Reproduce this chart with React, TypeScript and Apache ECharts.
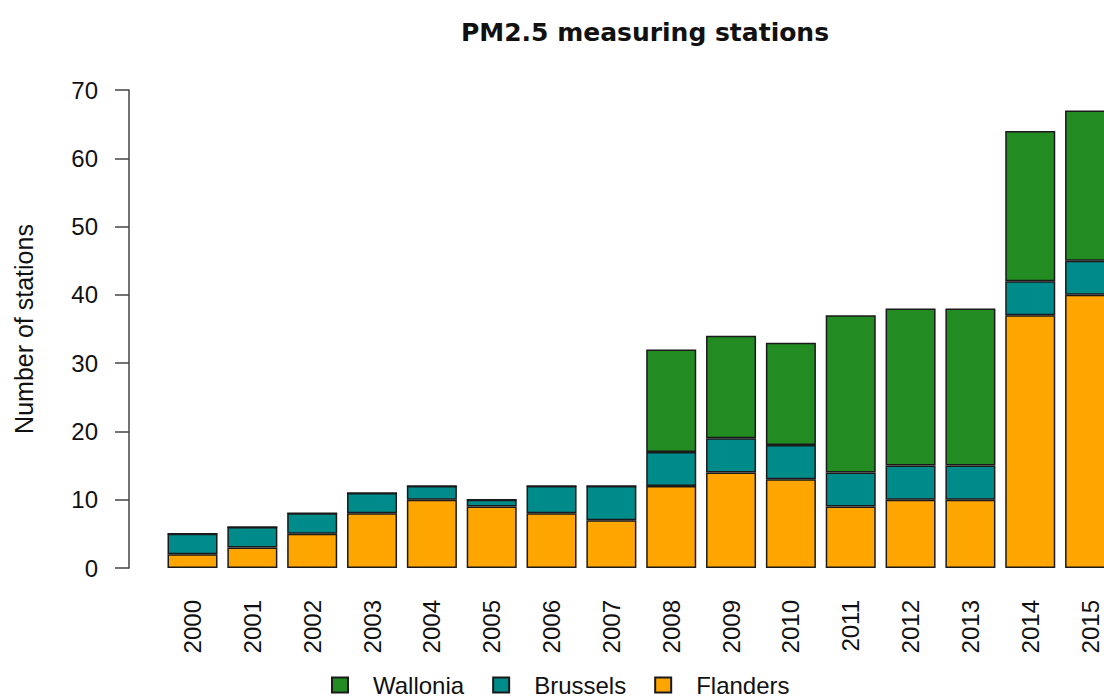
import React, { useEffect, useRef } from "react";
import * as echarts from "echarts";

const years = ["2000","2001","2002","2003","2004","2005","2006","2007","2008","2009","2010","2011","2012","2013","2014","2015"];
const flanders = [2, 3, 5, 8, 10, 9, 8, 7, 12, 14, 13, 9, 10, 10, 37, 40];
const brussels = [3, 3, 3, 3, 2, 1, 4, 5, 5, 5, 5, 5, 5, 5, 5, 5];
const wallonia = [0, 0, 0, 0, 0, 0, 0, 0, 15, 15, 15, 23, 23, 23, 22, 22];
const yTicks = { min: 0, max: 70, interval: 10 };

const FONT = "'Liberation Sans', Helvetica, Arial, sans-serif";

export default function App() {
  const ref = useRef<HTMLDivElement>(null);
  useEffect(() => {
    if (!ref.current) return;
    const chart = echarts.init(ref.current, null, { renderer: "svg" });
    const border = { borderColor: "#1a1a1a", borderWidth: 1.5 };
    chart.setOption({
      animation: false,
      backgroundColor: "#ffffff",
      textStyle: { fontFamily: FONT },
      title: {
        text: "PM2.5 measuring stations",
        left: 640,
        top: 15,
        textAlign: "center",
        textStyle: { fontFamily: "'DejaVu Sans', sans-serif", fontWeight: "bold", fontSize: 25, color: "#111" },
      },
      legend: {
        data: ["Wallonia", "Brussels", "Flanders"],
        left: 331,
        top: 673,
        padding: 0,
        itemWidth: 16,
        itemHeight: 15,
        itemGap: 28,
        icon: "rect",
        textStyle: { fontFamily: FONT, fontSize: 24, color: "#111", padding: [0, 0, 0, 20] },
      },
      grid: { left: 162.6, right: 0, top: 90, bottom: 129, containLabel: false },
      xAxis: {
        type: "category",
        data: years,
        axisLine: { show: false },
        axisTick: { show: false },
        axisLabel: { rotate: 90, margin: 32, fontSize: 24, color: "#111", fontFamily: FONT },
      },
      yAxis: {
        type: "value",
        min: yTicks.min,
        max: yTicks.max,
        interval: yTicks.interval,
        offset: 33.6,
        name: "Number of stations",
        nameLocation: "middle",
        nameGap: 93,
        nameTextStyle: { fontFamily: FONT, fontSize: 25, color: "#111" },
        axisLine: { show: true, lineStyle: { color: "#444", width: 1.5 } },
        axisTick: { show: true, length: 14, lineStyle: { color: "#444", width: 1.5 } },
        axisLabel: { margin: 31, fontSize: 24, color: "#111", fontFamily: FONT },
        splitLine: { show: false },
      },
      series: [
        { name: "Flanders", type: "bar", stack: "s", data: flanders, barWidth: "83.6%", itemStyle: { color: "#FFA500", ...border } },
        { name: "Brussels", type: "bar", stack: "s", data: brussels, barWidth: "83.6%", itemStyle: { color: "#008B8B", ...border } },
        { name: "Wallonia", type: "bar", stack: "s", data: wallonia, barWidth: "83.6%", itemStyle: { color: "#228B22", ...border } },
      ],
    });
    return () => chart.dispose();
  }, []);
  return (
    <div style={{ position: "absolute", left: 0, top: 0, width: 1104, height: 697, overflow: "hidden", background: "#fff" }}>
      <div ref={ref} style={{ width: 1120, height: 697 }} />
    </div>
  );
}
